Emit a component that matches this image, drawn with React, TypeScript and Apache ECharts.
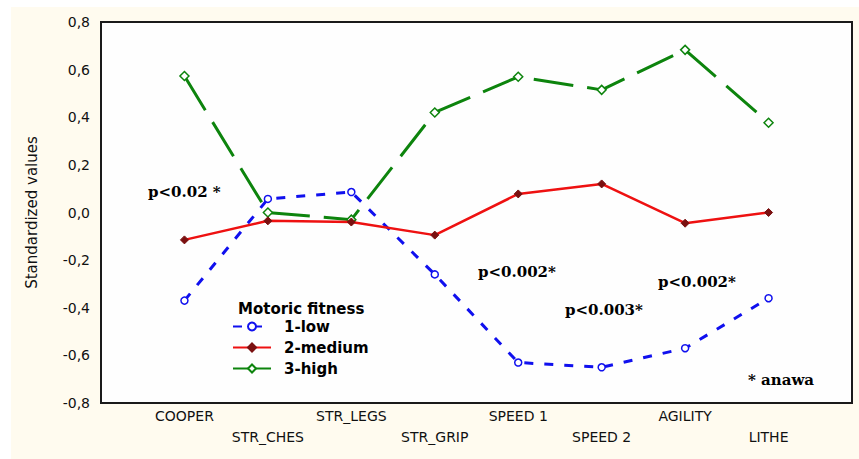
import React, { useEffect, useRef } from "react";
import * as echarts from "echarts";

const categories = ["COOPER", "STR_CHES", "STR_LEGS", "STR_GRIP", "SPEED 1", "SPEED 2", "AGILITY", "LITHE"];
const lowValues = [-0.37, 0.057, 0.086, -0.26, -0.63, -0.65, -0.57, -0.36];
const mediumValues = [-0.115, -0.035, -0.04, -0.095, 0.078, 0.12, -0.045, 0.0];
const highValues = [0.573, 0.0, -0.03, 0.42, 0.57, 0.515, 0.683, 0.377];
const seriesNames = ["1-low", "2-medium", "3-high"];
const legendTitle = "Motoric fitness";
const yAxisTitle = "Standardized values";
const annotations = [
  { text: "p<0.02 *", x: 148, y: 192 },
  { text: "p<0.002*", x: 478, y: 272 },
  { text: "p<0.003*", x: 565, y: 310 },
  { text: "p<0.002*", x: 658, y: 282 },
  { text: "* anawa", x: 748, y: 380 },
];

export default function App() {
  const ref = useRef<HTMLDivElement>(null);
  useEffect(() => {
    if (!ref.current) return;
    const chart = echarts.init(ref.current, null, { renderer: "svg" });
    const axisCats = ["", ...categories, ""];
    const toData = (vals: number[]) => vals.map((v, i) => [i + 1, v]);
    const sansFont = "DejaVu Sans, Verdana, sans-serif";
    chart.setOption({
      animation: false,
      backgroundColor: "#ffffff",
      grid: {
        left: 101,
        right: 7,
        top: 22,
        bottom: 56,
        show: true,
        backgroundColor: "#fefefe",
        borderColor: "#1a1a1a",
        borderWidth: 2,
        z: 1,
      },
      xAxis: {
        type: "category",
        data: axisCats,
        boundaryGap: false,
        axisLine: { show: false },
        axisTick: { show: false },
        axisLabel: {
          interval: 0,
          margin: 2,
          fontFamily: sansFont,
          fontSize: 14,
          color: "#111",
          lineHeight: 21,
          formatter: (value: string, index: number) => {
            if (!value) return "";
            return index % 2 === 1 ? value : "\n" + value;
          },
        },
        splitLine: {
          show: true,
          interval: (index: number) => index >= 1 && index <= categories.length,
          lineStyle: { color: "#b5b5b5", type: [1, 3], width: 1 },
        },
      },
      yAxis: {
        type: "value",
        min: -0.8,
        max: 0.8,
        interval: 0.2,
        name: yAxisTitle,
        nameLocation: "middle",
        nameGap: 62,
        nameTextStyle: { fontFamily: sansFont, fontSize: 15, color: "#111" },
        axisLine: { show: false },
        axisTick: { show: false },
        axisLabel: {
          margin: 11,
          fontFamily: sansFont,
          fontSize: 14,
          color: "#111",
          formatter: (v: number) => (Math.abs(v) < 1e-9 ? "0,0" : v.toFixed(1).replace(".", ",")),
        },
        splitLine: {
          show: true,
          lineStyle: { color: "#b5b5b5", type: [1, 3], width: 1 },
        },
      },
      legend: {
        orient: "vertical",
        left: 232,
        top: 318,
        padding: 0,
        itemWidth: 38,
        itemHeight: 10,
        itemGap: 4,
        textStyle: {
          fontFamily: sansFont,
          fontSize: 15,
          fontWeight: "bold",
          color: "#000",
          lineHeight: 17,
          padding: [0, 0, 0, 8],
        },
        data: seriesNames,
      },
      series: [
        {
          name: seriesNames[0],
          type: "line",
          data: toData(lowValues),
          symbol: "circle",
          symbolSize: 7,
          lineStyle: { color: "#1010ee", width: 3, type: [9, 11] },
          itemStyle: { color: "#ffffff", borderColor: "#1010ee", borderWidth: 1.5 },
          z: 3,
        },
        {
          name: seriesNames[1],
          type: "line",
          data: toData(mediumValues),
          symbol: "diamond",
          symbolSize: 8,
          lineStyle: { color: "#ee1111", width: 2.5, type: "solid" },
          itemStyle: { color: "#7a1010", borderColor: "#7a1010", borderWidth: 1 },
          z: 4,
        },
        {
          name: seriesNames[2],
          type: "line",
          data: toData(highValues),
          symbol: "diamond",
          symbolSize: 9,
          lineStyle: { color: "#0d840d", width: 3, type: [40, 14] },
          itemStyle: { color: "#ffffff", borderColor: "#0d840d", borderWidth: 1.5 },
          z: 3,
        },
      ],
      graphic: [
        {
          type: "rect",
          z: -10,
          silent: true,
          shape: { x: 11, y: 7, width: 848, height: 452 },
          style: { fill: "#fffbef" },
        },
        {
          type: "text",
          x: 238,
          y: 309,
          z: 10,
          style: {
            text: legendTitle,
            font: "bold 15px DejaVu Sans, Verdana, sans-serif",
            fill: "#000",
            textVerticalAlign: "middle",
          },
        },
        ...annotations.map((a) => ({
          type: "text",
          x: a.x,
          y: a.y,
          z: 10,
          style: {
            text: a.text,
            font: "bold 15px DejaVu Serif, Liberation Serif, serif",
            fill: "#000",
            textVerticalAlign: "middle",
          },
        })),
      ],
    });
    return () => chart.dispose();
  }, []);
  return (
    <div
      ref={ref}
      style={{ position: "fixed", left: 0, top: 0, width: 859, height: 459 }}
    />
  );
}
